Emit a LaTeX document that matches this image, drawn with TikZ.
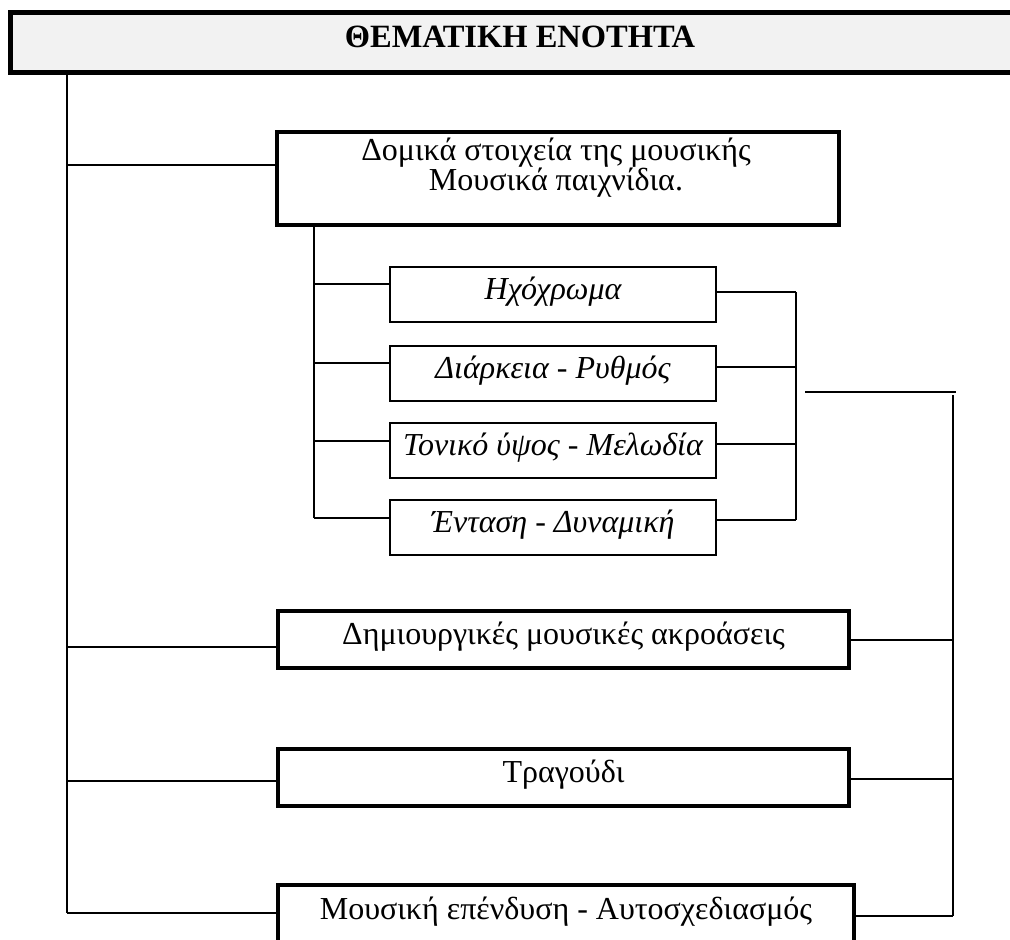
\documentclass[tikz,border=0pt]{standalone}
\usepackage{fontspec}
\setmainfont{Liberation Serif}
\definecolor{headgray}{HTML}{F2F2F2}
\newcommand{\grammata}{\fontsize{32}{30}\selectfont}

\begin{document}
\begin{tikzpicture}[x=1pt, y=-1pt, font=\grammata]
 \tikzstyle{thema}=[draw, line width=5pt, fill=headgray, inner sep=0pt, minimum width=1020pt, minimum height=60pt, text depth=12pt, font=\fontsize{32.5}{32.5}\selectfont\bfseries]
 \tikzstyle{megalo}=[draw, line width=4pt, inner sep=0pt, minimum height=57pt, text height=22pt, text depth=12pt, font=\grammata]
 \tikzstyle{mikro}=[draw, line width=2pt, inner sep=0pt, minimum width=326pt, minimum height=55pt, text height=22pt, text depth=12pt, font=\grammata\itshape]
 \tikzstyle{grammi}=[line width=2pt]
 %
 \useasboundingbox (0,0) rectangle (1010,940);
 %
 \node[thema] (thema) at (520, 42.5) {ΘΕΜΑΤΙΚΗ ΕΝΟΤΗΤΑ};
 %
 \node[draw, line width=4pt, minimum width=562pt, minimum height=93pt] (domika) at (558, 178.5) {};
 \node[align=center, inner sep=0pt] (domikakeim) at (556, 168) {Δομικά στοιχεία της μουσικής\\Μουσικά παιχνίδια.};
 %
 \node[mikro] (ixo) at (553, 294.5) {Ηχόχρωμα};
 \node[mikro] (diark) at (553, 373) {Διάρκεια - Ρυθμός};
 \node[mikro] (tonik) at (553, 450.5) {Τονικό ύψος - Μελωδία};
 \node[mikro] (entasi) at (553, 527) {Ένταση - Δυναμική};
 %
 \node[megalo, minimum width=571pt] (akroas) at (563.5, 639.5) {Δημιουργικές μουσικές ακροάσεις};
 \node[megalo, minimum width=571pt] (tragoudi) at (563.5, 777) {Τραγούδι};
 \node[megalo, minimum width=576pt, minimum height=58pt] (epend) at (566, 914) {Μουσική επένδυση - Αυτοσχεδιασμός};
 %%
 \coordinate (L1) at (67, 165);
 \coordinate (L2) at (67, 647);
 \coordinate (L3) at (67, 781);
 \coordinate (L4) at (67, 913);
 \draw[grammi] (thema.south -| L1) -- (L4);
 \draw[grammi] (L1) -- (L1 -| domika.west);
 \draw[grammi] (L2) -- (L2 -| akroas.west);
 \draw[grammi] (L3) -- (L3 -| tragoudi.west);
 \draw[grammi] (L4) -- (L4 -| epend.west);
 %
 \coordinate (M1) at (314, 284);
 \coordinate (M2) at (314, 363);
 \coordinate (M3) at (314, 441);
 \coordinate (M4) at (314, 518);
 \draw[grammi] (domika.south -| M1) -- (M4);
 \draw[grammi] (M1) -- (M1 -| ixo.west);
 \draw[grammi] (M2) -- (M2 -| diark.west);
 \draw[grammi] (M3) -- (M3 -| tonik.west);
 \draw[grammi] (M4) -- (M4 -| entasi.west);
 %
 \coordinate (R1) at (796, 292);
 \coordinate (R2) at (796, 367);
 \coordinate (R3) at (796, 444);
 \coordinate (R4) at (796, 520);
 \draw[grammi] (R1) -- (R4);
 \draw[grammi] (ixo.east |- R1) -- (R1);
 \draw[grammi] (diark.east |- R2) -- (R2);
 \draw[grammi] (tonik.east |- R3) -- (R3);
 \draw[grammi] (entasi.east |- R4) -- (R4);
 %
 \coordinate (S0) at (805, 392);
 \coordinate (S1) at (956, 392);
 \draw[grammi] (S0) -- (S1);
 \coordinate (V0) at (953, 395);
 \coordinate (V1) at (953, 640);
 \coordinate (V2) at (953, 779);
 \coordinate (V3) at (953, 916);
 \draw[grammi] (V0) -- (V3);
 \draw[grammi] (akroas.east |- V1) -- (V1);
 \draw[grammi] (tragoudi.east |- V2) -- (V2);
 \draw[grammi] (epend.east |- V3) -- (V3);
\end{tikzpicture}
\end{document}
